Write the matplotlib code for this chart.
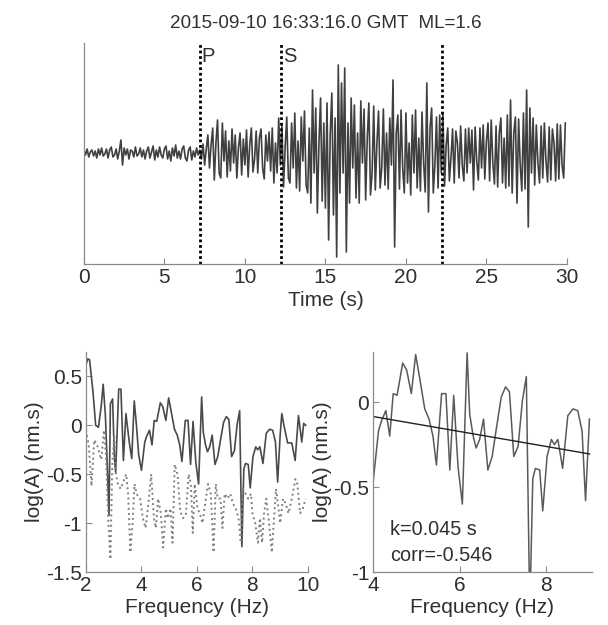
import numpy as np
import matplotlib.pyplot as plt

plt.rcParams['font.family'] = ['Liberation Sans', 'DejaVu Sans']
plt.rcParams['axes.unicode_minus'] = False

title = "2015-09-10 16:33:16.0 GMT  ML=1.6"

# seismogram, 10 samples per second, arbitrary amplitude units
dt = 0.1
trace = [
    3, -2, 4, -4, 1, 3, -3, 2, -5, 4,
    -2, 5, -3, -1, 4, -5, 3, 6, -4, -2,
    4, -6, 2, 13, -12, 5, -2, 4, -6, 3,
    2, -4, 6, -3, -1, 5, -4, 3, -6, 2,
    6, -5, 1, 7, -7, 3, -4, 6, -2, -5,
    4, 7, -6, 2, -8, 5, -3, 8, -5, 2,
    -6, 4, 7, -5, -8, 3, 6, -7, 2, -4,
    5, -2, 3, -6, 9, -12, 4, 18, -15, 8,
    25, -27, 10, 33, -20, -25, 30, -8, 22, -24,
    12, -18, 24, -10, 18, -25, 6, 20, -22, 14,
    -12, 23, -24, 8, 25, -19, -6, 22, -20, 15,
    24, -15, -26, 18, -8, 21, -18, 25, -30, 10,
    -20, 35, -12, 28, -34, 6, 36, -25, -30, 30,
    -15, 40, -35, 12, -38, 36, -8, 42, -32, -40,
    25, -50, 63, -20, 45, -60, 10, 55, -48, 30,
    -55, 50, -87, 20, 60, -62, 35, -104, 88, -40,
    70, -20, 85, -99, 30, -50, 55, -15, 48, -45,
    20, -50, 52, -10, 44, -47, 15, 50, -42, -20,
    47, -37, 10, 42, -35, -15, 44, -32, 20, -36,
    35, -12, 73, -94, 20, 38, -36, 43, -15, -40,
    40, -30, 10, -42, 38, -20, 43, -35, 15, -38,
    41, -10, -39, 70, -59, 25, 45, -40, -12, 36,
    -35, 38, -20, 40, -33, 8, 25, -28, -5, 24,
    -30, 22, 10, -25, 27, -12, -28, 24, -20, 25,
    -10, 23, -37, 26, -8, -27, 25, -15, 28, -26,
    12, 30, -28, 33, -10, -31, 27, -34, 20, 35,
    -30, 15, -35, 38, -33, 53, -40, 20, 36, -50,
    34, -12, -38, 40, -36, 63, -74, 45, -20, 35,
    -32, 28, -10, -30, 27, -25, 30, -8, -29, 26,
    -27, 24, 10, -28, 29, -26, 28, -12, -25, 30,
]
picks = [7.2, 12.25, 22.25]
pick_labels = ["P", "S", ""]

# signal spectrum (solid)
sig_f = [2.0, 2.07, 2.13, 2.25, 2.35, 2.45, 2.55, 2.62, 2.7, 2.78, 2.83, 2.88,
         2.96, 3.02, 3.07, 3.18, 3.26, 3.35, 3.44, 3.56, 3.65, 3.74, 3.82, 3.9,
         4.0, 4.12, 4.19, 4.29, 4.38, 4.46, 4.55, 4.68, 4.77, 4.88, 4.98, 5.08,
         5.19, 5.29, 5.38, 5.46, 5.58, 5.68, 5.77, 5.86, 5.96, 6.06, 6.17, 6.23,
         6.31, 6.38, 6.46, 6.55, 6.65, 6.75, 6.85, 6.96, 7.06, 7.15, 7.25, 7.35,
         7.45, 7.54, 7.62, 7.69, 7.75, 7.85, 7.92, 8.02, 8.12, 8.19, 8.27, 8.38,
         8.5, 8.62, 8.73, 8.83, 8.91, 9.0, 9.06, 9.15, 9.27, 9.42, 9.54, 9.66,
         9.78, 9.85, 9.92]
sig_v = [0.62, 0.68, 0.67, 0.35, 0.0, -0.02, 0.2, 0.42, 0.1, -0.5, -0.92, 0.22,
         0.27, -0.3, -0.48, 0.37, 0.37, -0.36, 0.12, -0.17, -0.34, 0.25, 0.0, -0.3,
         -0.46, -0.17, -0.11, -0.05, -0.2, 0.05, 0.04, 0.23, 0.19, 0.05, 0.28, 0.13,
         -0.04, -0.1, -0.2, -0.37, 0.05, 0.05, -0.4, 0.04, -0.38, -0.6, 0.29, -0.07,
         -0.2, -0.27, -0.22, -0.1, -0.4, -0.32, -0.15, 0.03, 0.09, 0.06, -0.32, -0.26,
         0.01, 0.15, -1.24, -0.45, -0.39, -0.4, -0.64, -0.32, -0.22, -0.25, -0.22, -0.39,
         -0.08, -0.04, -0.05, -0.17, -0.58, -0.1, 0.12, -0.02, -0.18, -0.18, -0.36, 0.1,
         -0.17, 0.02, 0.0]

# noise spectrum (dotted)
noise_f = [2.0, 2.1, 2.2, 2.3, 2.4, 2.55, 2.65, 2.72, 2.8, 2.88, 2.95, 3.02,
           3.08, 3.15, 3.25, 3.38, 3.45, 3.52, 3.6, 3.68, 3.75, 3.82, 3.95, 4.05,
           4.15, 4.25, 4.35, 4.45, 4.52, 4.6, 4.7, 4.78, 4.88, 4.95, 5.05, 5.12,
           5.2, 5.3, 5.4, 5.5, 5.6, 5.7, 5.78, 5.85, 5.92, 6.02, 6.1, 6.2,
           6.3, 6.4, 6.5, 6.6, 6.68, 6.75, 6.85, 6.92, 7.0, 7.1, 7.2, 7.3,
           7.4, 7.5, 7.58, 7.66, 7.75, 7.85, 7.95, 8.0, 8.1, 8.2, 8.27, 8.35,
           8.42, 8.5, 8.6, 8.7, 8.78, 8.85, 8.92, 9.0, 9.1, 9.2, 9.3, 9.42,
           9.55, 9.62, 9.72, 9.82, 9.92]
noise_v = [-0.05, -0.2, -0.62, -0.15, -0.2, -0.35, -0.05, -0.3, -0.95, -1.37, -0.4, -0.1,
           -0.5, -0.6, -0.65, -0.55, -0.5, -0.7, -1.3, -1.0, -0.6, -0.7, -0.75, -0.95,
           -1.05, -0.8, -0.5, -0.95, -1.05, -0.75, -0.9, -1.25, -0.85, -0.95, -0.85, -1.2,
           -0.4, -0.5, -0.88, -0.95, -0.92, -0.5, -0.6, -1.1, -0.6, -0.85, -0.9, -1.0,
           -0.8, -0.6, -0.7, -1.3, -0.6, -0.75, -0.75, -1.05, -0.7, -0.75, -0.7, -0.8,
           -0.85, -0.95, -1.2, -0.65, -0.7, -0.75, -0.7, -0.9, -1.0, -1.2, -0.95, -1.2,
           -0.9, -0.75, -1.0, -1.3, -0.95, -0.65, -0.8, -1.0, -0.75, -0.8, -0.9, -0.75,
           -0.55, -0.6, -0.9, -0.85, -0.75]

# linear fit on right panel (4-9 Hz band)
fit_band = (4.0, 9.0)
fit_f = [4.0, 9.0]
fit_v = [-0.085, -0.305]
k_text = "k=0.045 s"
corr_text = "corr=-0.546"

spine_col = "#8a8a8a"
txt_col = "#303030"


def style(ax, size=15):
    ax.spines['top'].set_visible(False)
    ax.spines['right'].set_visible(False)
    for s in ['left', 'bottom']:
        ax.spines[s].set_color(spine_col)
        ax.spines[s].set_linewidth(0.9)
    ax.tick_params(direction='in', length=4, width=0.8, color=spine_col,
                   labelsize=size, labelcolor=txt_col, pad=3)


fig = plt.figure(figsize=(6.08, 6.25), dpi=100)

# top: seismogram
ax1 = fig.add_axes([0.138, 0.5776, 0.7944, 0.3536])
t = np.arange(len(trace)) * dt
ax1.plot(t, trace, color="#404040", lw=1.2)
for p, lab in zip(picks, pick_labels):
    ax1.axvline(p, color="black", ls=(0, (1, 1)), lw=2.0)
    if lab:
        ax1.text(p + 0.12, 106, lab, fontsize=14.5, color=txt_col, va='top', ha='left')
ax1.set_xlim(0, 30)
ax1.set_ylim(-111, 110)
ax1.set_xticks([0, 5, 10, 15, 20, 25, 30])
ax1.set_yticks([])
style(ax1, 15)
ax1.set_xlabel("Time (s)", fontsize=15, color=txt_col, labelpad=3)
ax1.set_title(title, fontsize=13.6, color=txt_col, pad=11)

# bottom left: spectra
ax2 = fig.add_axes([0.1414, 0.0848, 0.365, 0.352])
ax2.plot(sig_f, sig_v, color="#4a4a4a", lw=1.2)
ax2.plot(noise_f, noise_v, color="#808080", lw=1.4, ls=':')
ax2.set_xlim(2, 10)
ax2.set_ylim(-1.5, 0.75)
ax2.set_xticks([2, 4, 6, 8, 10])
ax2.set_yticks([-1.5, -1, -0.5, 0, 0.5])
ax2.set_yticklabels(["-1.5", "-1", "-0.5", "0", "0.5"])
style(ax2)
ax2.set_xlabel("Frequency (Hz)", fontsize=15, color=txt_col, labelpad=2)
ax2.set_ylabel("log(A) (nm.s)", fontsize=15, color=txt_col, labelpad=1)

# bottom right: fit
sf = np.array(sig_f)
sv = np.array(sig_v)
band = (sf >= fit_band[0]) & (sf <= fit_band[1])
ax3 = fig.add_axes([0.614, 0.0848, 0.359, 0.352])
ax3.plot(sf[band], sv[band], color="#5a5a5a", lw=1.1)
ax3.plot(fit_f, fit_v, color="#202020", lw=1.0)
ax3.set_xlim(4, 9.05)
ax3.set_ylim(-1, 0.295)
ax3.set_xticks([4, 6, 8])
ax3.set_yticks([-1, -0.5, 0])
ax3.set_yticklabels(["-1", "-0.5", "0"])
style(ax3)
ax3.text(0.075, 0.17, k_text, transform=ax3.transAxes, fontsize=14.3, color=txt_col)
ax3.text(0.075, 0.05, corr_text, transform=ax3.transAxes, fontsize=14.3, color=txt_col)
ax3.set_xlabel("Frequency (Hz)", fontsize=15, color=txt_col, labelpad=2)
ax3.set_ylabel("log(A) (nm.s)", fontsize=15, color=txt_col, labelpad=1)

fig.savefig("out.png", dpi=100)
